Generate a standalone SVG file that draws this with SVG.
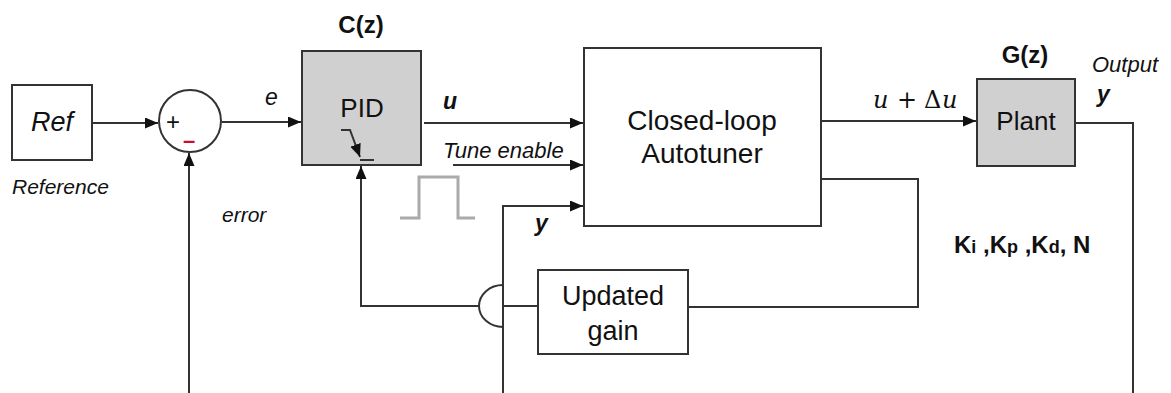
<svg xmlns="http://www.w3.org/2000/svg" width="1171" height="393" viewBox="0 0 1171 393">
<defs>
<style>
.box{fill:#fff;stroke:#333;stroke-width:2}
.gray{fill:#d0d0d0;stroke:#333;stroke-width:2}
.ln{fill:none;stroke:#333;stroke-width:2}
.t{font-family:"Liberation Sans",Arial,Helvetica,sans-serif;fill:#111}
.it{font-style:italic}
.b{font-weight:bold}
.m{text-anchor:middle}
.pulse{fill:none;stroke:#aaa;stroke-width:3}
</style>
<marker id="arr" markerUnits="userSpaceOnUse" markerWidth="14" markerHeight="12" refX="13" refY="5.5" orient="auto">
<path d="M0,0 L13,5.5 L0,11 z" fill="#111"/>
</marker>
</defs>
<rect width="1171" height="393" fill="#fff"/>

<g id="connectors">
<path class="ln" d="M92,123 H158" marker-end="url(#arr)"/>
<path class="ln" d="M222,122 H301" marker-end="url(#arr)"/>
<path class="ln" d="M189,393 V153" marker-end="url(#arr)"/>
<path class="ln" d="M424,123 H583" marker-end="url(#arr)"/>
<path class="ln" d="M453,165 H583" marker-end="url(#arr)"/>
<path class="ln" d="M503,393 V206 H583" marker-end="url(#arr)"/>
<path class="ln" d="M821,121 H976" marker-end="url(#arr)"/>
<path class="ln" d="M1075,123 H1133 V393"/>
<path class="ln" d="M821,179 H918 V307 H688"/>
<path class="ln" d="M538,306 H503 M503,285 A24,21 0 0 0 503,327 M479,306 H361 V166" marker-end="url(#arr)"/>
<path class="pulse" d="M400,218 H419 V177 H458 V218 H475"/>
</g>

<g id="ref">
<rect class="box" x="12" y="85" width="80" height="75"/>
<text class="t it m" x="52" y="131" font-size="27">Ref</text>
<text class="t it" x="12" y="194" font-size="21">Reference</text>
</g>

<g id="sum">
<circle class="box" cx="190" cy="121" r="31"/>
<text class="t m" x="173" y="130" font-size="24">+</text>
<text class="t m b" x="189" y="148" font-size="22" style="fill:#c8102e">–</text>
</g>

<g id="labels-left">
<text class="t it" x="265" y="105" font-size="23">e</text>
<text class="t it" x="222" y="222" font-size="21">error</text>
</g>

<g id="pid">
<rect class="gray" x="302" y="51" width="119" height="114"/>
<text class="t b m" x="361" y="33" font-size="24">C(z)</text>
<text class="t m" x="362" y="117" font-size="26">PID</text>
<path class="ln" d="M341,130 H350 L360,157" marker-end="url(#arr)"/>
<path class="ln" d="M360,160 H374"/>
</g>

<g id="pid-labels">
<text class="t b it" x="443" y="109" font-size="23">u</text>
<text class="t it" x="443" y="158" font-size="22">Tune enable</text>
<text class="t b it" x="535" y="231" font-size="23">y</text>
</g>

<g id="autotuner">
<rect class="box" x="584" y="48" width="237" height="178"/>
<text class="t m" x="702" y="130" font-size="28">Closed-loop</text>
<text class="t m" x="702" y="163" font-size="28">Autotuner</text>
</g>

<g id="control-label">
<text font-family="'DejaVu Serif','Liberation Serif',serif" font-size="24" fill="#111" y="108"><tspan x="873" font-style="italic">u</tspan><tspan x="897">+</tspan><tspan x="924">Δ</tspan><tspan x="942" font-style="italic">u</tspan></text>
</g>

<g id="plant">
<rect class="gray" x="977" y="79" width="98" height="87"/>
<text class="t b m" x="1025" y="63" font-size="24">G(z)</text>
<text class="t m" x="1026" y="130" font-size="26">Plant</text>
<text class="t it" x="1092" y="72" font-size="22">Output</text>
<text class="t b it" x="1097" y="102" font-size="23">y</text>
</g>

<g id="gains-label">
<text class="t b" x="954" y="253" font-size="24">K<tspan font-size="18">i</tspan> ,K<tspan font-size="18">p</tspan> ,K<tspan font-size="18">d</tspan>, N</text>
</g>

<g id="updated-gain">
<rect class="box" x="538" y="270" width="150" height="84"/>
<text class="t m" x="613" y="305" font-size="27">Updated</text>
<text class="t m" x="613" y="340" font-size="27">gain</text>
</g>
</svg>
